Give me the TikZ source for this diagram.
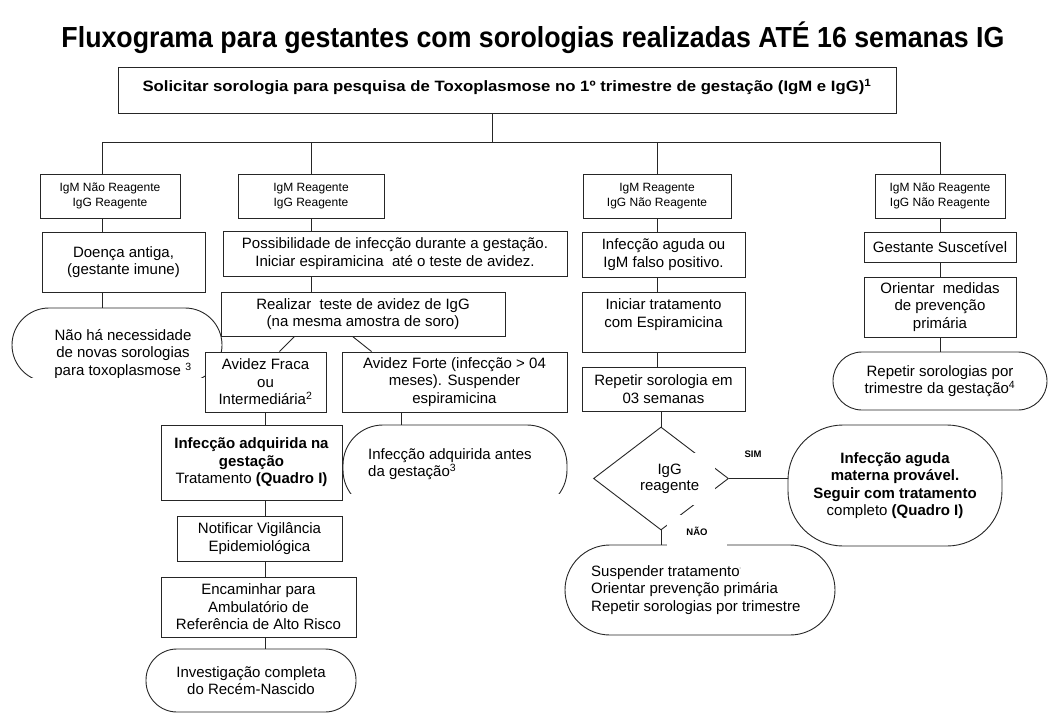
\documentclass[tikz,border=0pt]{standalone}
\usepackage{fontspec}
\usepackage{graphicx}
\setmainfont{Liberation Sans}
\usetikzlibrary{shapes.geometric,calc}
\newcommand\setfs[2]{\fontsize{#1}{#2}\selectfont}
\tikzset{
  ln/.style={line width=0.9pt, draw=black!85},
  box/.style={ln, fill=white, rectangle, inner sep=1pt, align=center, font=\setfs{15}{17.5}},
  hdr/.style={box, font=\setfs{12}{14.5}},
  oval/.style={ln, fill=white, rectangle, inner sep=0pt},
  txt/.style={inner sep=0pt, align=center, font=\setfs{15}{17.5}},
  conn/.style={ln},
  lab/.style={inner sep=0pt, font=\bfseries\setfs{9.5}{10}},
}
\begin{document}
\begin{tikzpicture}[x=1pt,y=-1pt]
\useasboundingbox[fill=white] (0,0) rectangle (1058,720);

% title
\node[inner sep=0pt, font=\bfseries\setfs{29}{32}] (title) at (533,38)
  {\resizebox{943pt}{\height}{Fluxograma para gestantes com sorologias realizadas ATÉ 16 semanas IG}};

% top box
\node[box, minimum width=778, minimum height=46] (T) at (507,90) {};
\node[inner sep=0pt, font=\bfseries\setfs{15}{17}] (Tt) at (507,87)
  {\resizebox{729pt}{\height}{Solicitar sorologia para pesquisa de Toxoplasmose no 1º trimestre de gestação (IgM e IgG)\textsuperscript{1}}};

\coordinate (bt) at (492,142);
\coordinate (b1) at (102,142);
\coordinate (b2) at (311,142);
\coordinate (b3) at (657,142);
\coordinate (b4) at (940,142);

% clipped partial ovals (drawn first, covered by boxes)
\begin{scope}
  \clip (0,0) rectangle (1058,377);
  \node[oval, rounded corners=37pt, minimum width=210, minimum height=74] (N1) at (117,345) {};
  \node[txt] (N1t) at (123,354) {Não há necessidade\\de novas sorologias\\para toxoplasmose \textsuperscript{3}};
\end{scope}
\begin{scope}
  \clip (0,0) rectangle (1058,493);
  \node[oval, rounded corners=40pt, minimum width=224, minimum height=85] (IB) at (455,467.5) {};
  \node[txt, align=left, anchor=west] (IBt) at (368,464) {Infecção adquirida antes\\da gestação\textsuperscript{3}};
\end{scope}

% column 1
\node[hdr, minimum width=140, minimum height=44] (H1) at (110,196) {IgM Não Reagente\\IgG Reagente};
\node[box, minimum width=163, minimum height=60] (D1) at (123.5,262) {Doença antiga,\\(gestante imune)};

% column 2
\node[hdr, minimum width=146, minimum height=44] (H2) at (311,196) {IgM Reagente\\IgG Reagente};
\node[box, minimum width=344, minimum height=45] (P2) at (395,253.5) {Possibilidade de infecção durante a gestação.\\Iniciar espiramicina~ até o teste de avidez.};
\node[box, minimum width=284, minimum height=44] (R2) at (363,314) {Realizar~ teste de avidez de IgG\\(na mesma amostra de soro)};
\node[box, minimum width=121, minimum height=60] (AF) at (265.5,382) {Avidez Fraca\\ou\\Intermediária\textsuperscript{2}};
\node[box, minimum width=225, minimum height=60] (AS) at (454.5,382) {Avidez Forte (infecção > 04\\meses). Suspender\\espiramicina};
\node[box, minimum width=181, minimum height=75] (IA) at (251.5,462.5) {\textbf{Infecção adquirida na}\\\textbf{gestação}\\Tratamento \textbf{(Quadro I)}};
\node[box, minimum width=165, minimum height=45] (NV) at (259.5,538.5) {Notificar Vigilância\\Epidemiológica};
\node[box, minimum width=195, minimum height=60] (EN) at (258.5,607) {Encaminhar para\\Ambulatório de\\Referência de Alto Risco};
\node[oval, rounded corners=31pt, minimum width=210, minimum height=63, align=center, font=\setfs{15}{17}] (IN) at (251,680.5) {Investigação completa\\do Recém-Nascido};

% column 3
\node[hdr, minimum width=148, minimum height=44] (H3) at (657,196) {IgM Reagente\\IgG Não Reagente};
\node[box, minimum width=163, minimum height=45] (IG3) at (663.5,254.5) {Infecção aguda ou\\IgM falso positivo.};
\node[box, minimum width=163, minimum height=60] (IT3) at (663.5,322) {Iniciar tratamento\\com Espiramicina\\\mbox{}};
\node[box, minimum width=163, minimum height=44] (RS3) at (663.5,389) {Repetir sorologia em\\03 semanas};
\node[ln, diamond, inner sep=0pt, minimum width=135, minimum height=103] (D) at (661,478.5) {};
\node[oval, rounded corners=55pt, minimum width=214, minimum height=121, align=center, font=\bfseries\setfs{15}{17.5}] (S) at (895,485.5)
  {Infecção aguda\\materna provável.\\Seguir com tratamento\\\mdseries completo \bfseries(Quadro I)};
\node[oval, rounded corners=45pt, minimum width=270, minimum height=90] (NO) at (700,590) {};
\node[txt, align=left, anchor=west] (NOt) at (591,590) {Suspender tratamento\textsuperscript{\tiny '}\\Orientar prevenção primária\\Repetir sorologias por trimestre};
\node[fill=white, inner xsep=3pt, inner ysep=0pt, text width=72pt, minimum height=52, align=left, font=\setfs{15}{17.5}] (Dt) at (676,479)
  {\begin{tabular}{@{}c@{}}IgG\\[-1pt]reagente\end{tabular}};
\node[fill=white, lab, minimum width=60, minimum height=32] (NAO) at (697,531) {NÃO};
\node[lab] (SIM) at (753,454) {SIM};

% column 4
\node[hdr, minimum width=130, minimum height=44] (H4) at (940,196) {IgM Não Reagente\\IgG Não Reagente};
\node[box, minimum width=152, minimum height=30] (GS) at (940,247) {Gestante Suscetível};
\node[box, minimum width=152, minimum height=60] (OM) at (940,307) {Orientar~ medidas\\de prevenção\\primária};
\node[oval, rounded corners=29pt, minimum width=214, minimum height=58, align=center, font=\setfs{15}{17}] (RT) at (940,381) {Repetir sorologias por\\trimestre da gestação\textsuperscript{4}};

% connectors
\draw[conn] (T.south -| bt) -- (bt);
\draw[conn] (b1) -- (b4);
\draw[conn] (b1) -- (H1.north -| b1);
\draw[conn] (H1.south -| b1) -- (D1.north -| b1);
\draw[conn] (D1.south -| b1) -- (N1.north -| b1);

\draw[conn] (b2) -- (H2.north);
\draw[conn] (H2.south) -- (H2.south |- P2.north);
\draw[conn] (H2.south |- P2.south) -- (H2.south |- R2.north);
\draw[conn] ($(R2.south west)+(74,0)$) -- ($(AF.north west)+(75,0)$);
\draw[conn] ($(R2.south west)+(132,0)$) -- ($(AS.north west)+(30,0)$);
\draw[conn] (AF.south) -- (AF.south |- IA.north);
\draw[conn] (AF.south |- IA.south) -- (AF.south |- NV.north);
\draw[conn] (AF.south |- NV.south) -- (AF.south |- EN.north);
\draw[conn] (AF.south |- EN.south) -- (AF.south |- IN.north);
\draw[conn] ($(AS.south west)+(60,0)$) coordinate (k2) -- (k2 |- IB.north);

\draw[conn] (b3) -- (H3.north);
\draw[conn] (H3.south) -- (H3.south |- IG3.north);
\draw[conn] (H3.south |- IG3.south) -- (H3.south |- IT3.north);
\draw[conn] (H3.south |- IT3.south) -- (H3.south |- RS3.north);
\draw[conn] (RS3.south -| D.north) -- (D.north);
\draw[conn] (D.east) -- (D.east -| S.west);
\draw[conn] (D.south) -- (D.south |- NO.north);

\draw[conn] (b4) -- (H4.north);
\draw[conn] (H4.south) -- (GS.north);
\draw[conn] (GS.south) -- (OM.north);
\draw[conn] (OM.south) -- (RT.north);
\end{tikzpicture}
\end{document}
